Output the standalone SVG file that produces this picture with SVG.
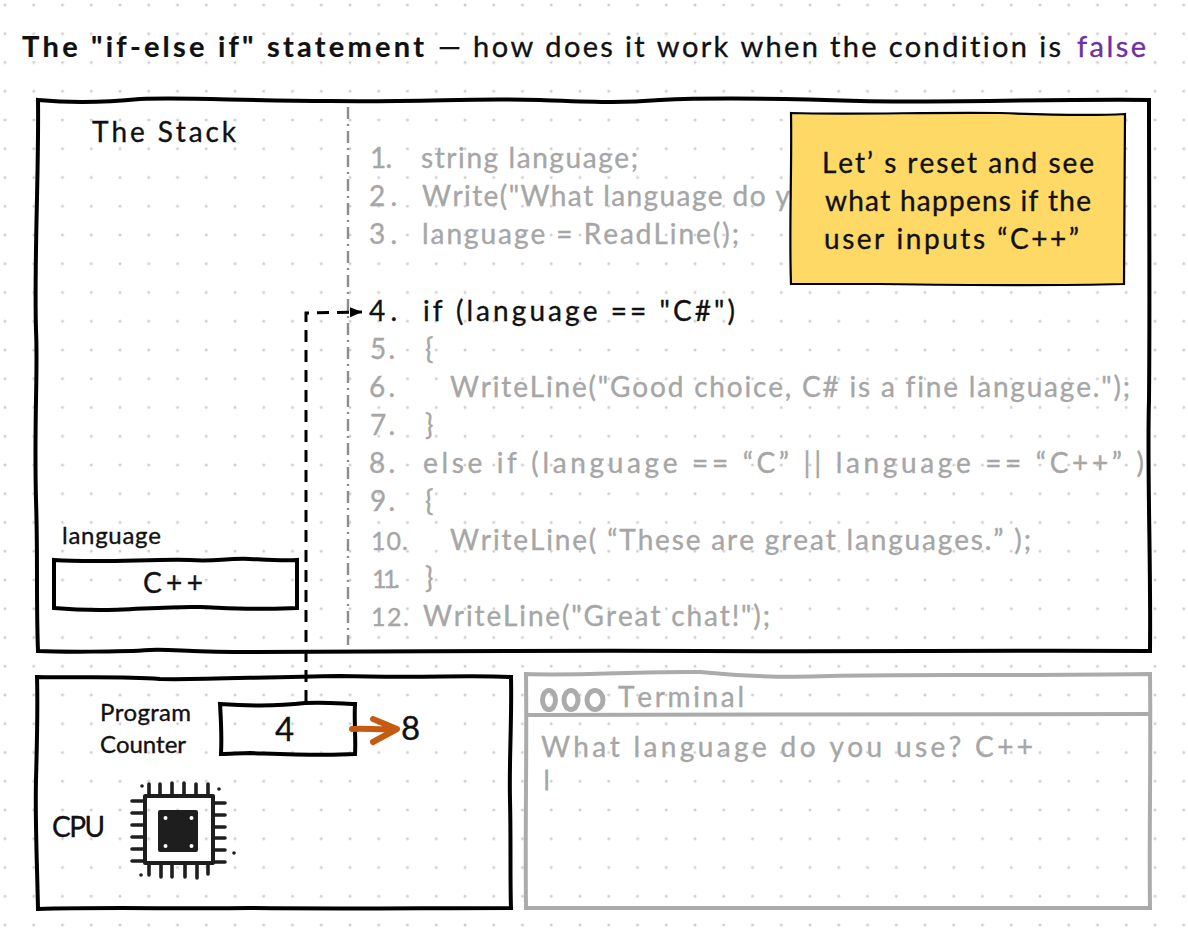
<svg xmlns="http://www.w3.org/2000/svg" width="1188" height="950" viewBox="0 0 1188 950">
<style>
text{font-family:"Lato","Open Sans","Liberation Sans",sans-serif;font-size:28px;fill:#111;font-variant-ligatures:none;font-kerning:none;stroke:#111;stroke-width:.35px}
.g{fill:#a6a6a6;stroke:#a6a6a6}
.t{font-size:29px}
.s{font-size:24px}
.n{font-size:25px}
.big{font-size:33px}
.box{fill:none;stroke:#000;stroke-width:4;stroke-linejoin:miter}
.gbox{fill:none;stroke:#ababab;stroke-width:4}
.pin{fill:none;stroke:#1e1e1e;stroke-width:3.600;stroke-linecap:round}
</style>
<defs>
<pattern id="dots" patternUnits="userSpaceOnUse" width="28.75" height="28.75"><circle cx="5" cy="5" r="1.500" fill="#cfcfcf"/></pattern>
<marker id="tri" markerUnits="userSpaceOnUse" markerWidth="13" markerHeight="12" refX="12" refY="6" orient="auto"><path d="M0 1L12 6L0 11Z" fill="#000"/></marker>
</defs>
<rect width="1188" height="950" fill="#fff"/>
<rect width="1188" height="950" fill="url(#dots)"/>

<g id="title">
<text class="t" x="22" y="57" style="font-weight:700;stroke-width:.2px" textLength="402">The "if-else if" statement</text>
<text class="t" x="438" y="57" textLength="623">— how does it work when the condition is</text>
<text class="t" x="1077" y="57" textLength="69" style="fill:#7030a0;stroke:#7030a0">false</text>
</g>

<g id="stack-frame">
<path class="box" d="M38 100C70 103 110 102 140 99C190 97 240 101 330 101C430 102 470 98 540 100C600 102 620 103 660 100C720 97 800 99 860 101C930 103 1050 99 1149 100C1149 200 1150 300 1149 400C1147 470 1151 560 1150 651C1000 650 850 652 700 651C550 650 400 652 250 652C190 652 170 649 150 650C120 652 60 652 38 651C36 600 38 560 36 500C34 420 38 370 36 330C34 260 39 170 38 100Z"/>
<text x="92" y="142" textLength="144">The Stack</text>
</g>

<g id="language-box">
<path class="box" d="M54 560C100 563 150 559 190 560C215 562 225 558 250 559C270 560 285 561 297 560L297 608C260 610 230 608 200 607C170 606 130 610 100 610C80 610 65 609 54 608Z"/>
<text class="s" x="62" y="544" textLength="99">language</text>
<text x="143" y="593" textLength="60">C++</text>
</g>

<g id="code-divider">
<path d="M348 107L348 645" fill="none" stroke="#8c8c8c" stroke-width="2.400" stroke-dasharray="12 5 2 5"/>
</g>

<g id="code">
<text class="g" x="370" y="168" textLength="22">1.</text>
<text class="g" x="421" y="168" textLength="217">string language;</text>
<text class="g" x="369" y="206" textLength="28">2.</text>
<text class="g" x="422" y="206" textLength="368">Write("What language do y</text>
<text class="g" x="369" y="244" textLength="28">3.</text>
<text class="g" x="422" y="244" textLength="317">language = ReadLine();</text>
<text x="369" y="321" textLength="28">4.</text>
<text x="423" y="321" textLength="312">if (language == "C#")</text>
<text class="g" x="370" y="359" textLength="25">5.</text>
<text class="g" x="425" y="359" textLength="11">{</text>
<text class="g" x="369" y="397" textLength="26">6.</text>
<text class="g" x="450" y="397" textLength="680">WriteLine("Good choice, C# is a fine language.");</text>
<text class="g" x="370" y="435" textLength="25">7.</text>
<text class="g" x="425" y="435" textLength="11">}</text>
<text class="g" x="369" y="473" textLength="26">8.</text>
<text class="g" x="423" y="473" textLength="721">else if (language == “C” || language == “C++” )</text>
<text class="g" x="370" y="511" textLength="25">9.</text>
<text class="g" x="425" y="511" textLength="11">{</text>
<text class="g n" x="371" y="550" textLength="37">10.</text>
<text class="g" x="450" y="550" textLength="581">WriteLine( “These are great languages.” );</text>
<text class="g n" x="372" y="588" textLength="28">11.</text>
<text class="g" x="425" y="588" textLength="11">}</text>
<text class="g n" x="371" y="626" textLength="38">12.</text>
<text class="g" x="423" y="626" textLength="347">WriteLine("Great chat!");</text>
</g>

<g id="note">
<path d="M791 113C850 115 930 112 1000 113C1050 115 1090 116 1125 114L1124 284C1050 286 950 285 880 284C850 284 820 284 791 284C789 230 792 170 791 113Z" fill="#ffd966" stroke="#000" stroke-width="2.200"/>
<text x="822" y="173" textLength="272">Let’ s reset and see</text>
<text x="825" y="211" textLength="266">what happens if the</text>
<text x="824" y="249" textLength="255">user inputs “C++”</text>
</g>

<g id="cpu-frame">
<path class="box" d="M37 677C80 678 120 676 160 679C200 680 260 677 340 676C420 678 470 675 511 677C512 720 509 760 510 800C511 840 510 880 511 908C420 908 340 909 250 908C180 909 100 907 38 909C37 860 35 820 36 780C37 740 38 710 37 677Z"/>
<text x="52" y="837" textLength="53">CPU</text>
<text class="s" x="100" y="721" textLength="91">Program</text>
<text class="s" x="100" y="753" textLength="86">Counter</text>
</g>

<g id="program-counter">
<path class="box" d="M220 704C250 706 280 706 305 703C330 702 345 704 355 704C354 720 356 740 355 754C320 756 280 754 250 753C240 753 230 754 221 754C222 735 221 720 220 704Z"/>
<text class="big" x="275" y="741" textLength="18">4</text>
</g>

<g id="next-value">
<text class="big" x="401" y="740" textLength="16">8</text>
</g>

<g id="cpu-icon">
<path d="M145 796L213 796L213 863L145 863Z" fill="none" stroke="#1e1e1e" stroke-width="4" stroke-linejoin="round"/>
<rect x="158" y="810" width="40" height="42" rx="2" fill="#1e1e1e"/>
<circle cx="165.500" cy="818" r="2" fill="#fff"/><circle cx="191.500" cy="818" r="2" fill="#fff"/><circle cx="165.500" cy="846" r="2" fill="#fff"/><circle cx="191.500" cy="846" r="2" fill="#fff"/>
<path class="pin" d="M149 784V796M160 784V796M172 783V796M184 783V796M196 784V796M208 784V796M149 863V875M161 863V877M172 863V877M185 863V877M197 863V878M208 863V874M132 801H145M132 813H145M132 825H145M132 837H145M132 849H145M132 861H145M213 803H225M213 815H225M213 827H225M213 838H225M213 850H225M213 862H225"/>
<circle cx="142" cy="786" r="1.800" fill="#1e1e1e"/><circle cx="219" cy="789" r="1.800" fill="#1e1e1e"/><circle cx="234" cy="853" r="1.800" fill="#1e1e1e"/><circle cx="141" cy="875" r="1.800" fill="#1e1e1e"/>
</g>

<g id="terminal">
<path class="gbox" d="M526 674C580 676 640 671 700 672C740 676 780 678 830 676C900 674 1000 676 1150 674C1151 760 1149 840 1150 908C1000 909 800 907 526 908C525 830 527 750 526 674Z"/>
<path class="gbox" d="M527 715C700 713 900 716 1150 714"/>
<ellipse class="gbox" cx="549" cy="700" rx="6.500" ry="9.500" style="stroke-width:5"/>
<ellipse class="gbox" cx="571" cy="700" rx="7" ry="9.500" style="stroke-width:5"/>
<ellipse class="gbox" cx="595" cy="700" rx="8" ry="9.500" style="stroke-width:5"/>
<text class="g" x="618" y="707" textLength="126">Terminal</text>
<text class="g" x="541" y="757" textLength="492">What language do you use? C++</text>
<text class="g" x="544" y="786" style="font-size:21px;stroke-width:1.200px" textLength="6">|</text>
</g>

<g id="connectors">
<path d="M306 702L306 313L362 312" fill="none" stroke="#000" stroke-width="3" stroke-dasharray="12 8" marker-end="url(#tri)"/>
<path d="M352 729C365 728 380 730 395 729M373 719L397 729L373 742" fill="none" stroke="#c55a11" stroke-width="6" stroke-linecap="round" stroke-linejoin="round"/>
</g>
</svg>
